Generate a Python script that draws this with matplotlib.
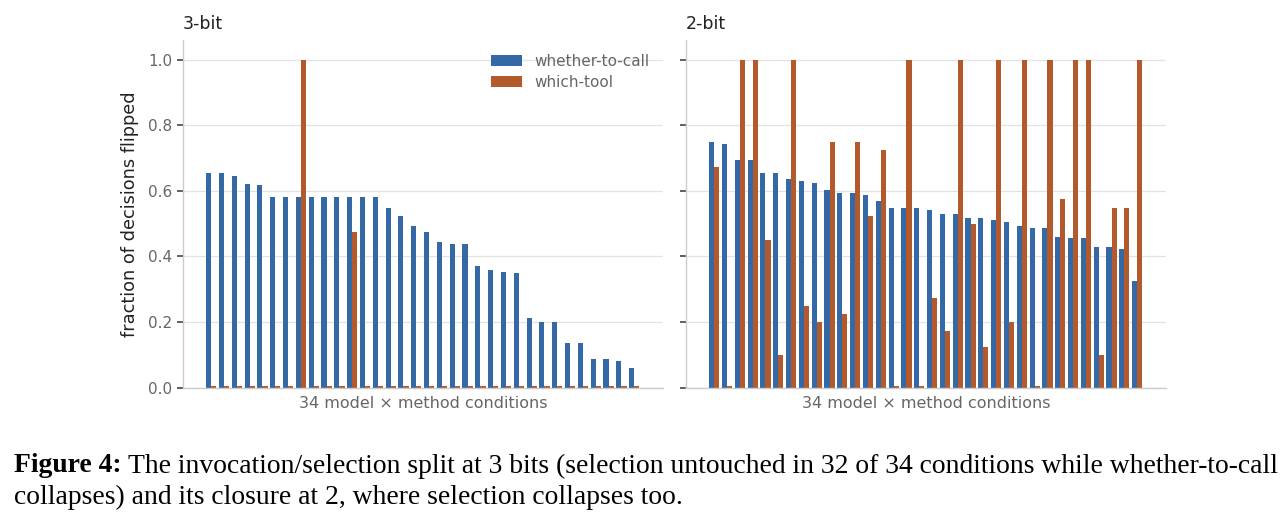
import matplotlib
matplotlib.use("Agg")
import matplotlib.pyplot as plt
import numpy as np

# fraction of decisions flipped, 34 model x method conditions per panel
call_3bit = [0.655, 0.655, 0.644, 0.622, 0.619, 0.582, 0.582, 0.582, 0.582, 0.582,
             0.582, 0.582, 0.582, 0.582, 0.548, 0.524, 0.493, 0.475, 0.445, 0.438,
             0.438, 0.371, 0.359, 0.353, 0.350, 0.213, 0.200, 0.200, 0.136, 0.136,
             0.088, 0.088, 0.081, 0.060]
tool_3bit = [0, 0, 0, 0, 0, 0, 0, 1.0, 0, 0,
             0, 0.475, 0, 0, 0, 0, 0, 0, 0, 0,
             0, 0, 0, 0, 0, 0, 0, 0, 0, 0,
             0, 0, 0, 0]

call_2bit = [0.750, 0.744, 0.695, 0.695, 0.655, 0.655, 0.637, 0.631, 0.625, 0.603,
             0.594, 0.594, 0.588, 0.570, 0.548, 0.548, 0.548, 0.542, 0.530, 0.530,
             0.518, 0.518, 0.512, 0.506, 0.493, 0.487, 0.487, 0.460, 0.457, 0.457,
             0.429, 0.429, 0.423, 0.326]
tool_2bit = [0.673, 0.0, 1.0, 1.0, 0.451, 0.100, 1.0, 0.250, 0.200, 0.750,
             0.225, 0.750, 0.524, 0.725, 0.0, 1.0, 0.0, 0.274, 0.173, 1.0,
             0.500, 0.124, 1.0, 0.200, 1.0, 0.0, 1.0, 0.576, 1.0, 1.0,
             0.100, 0.548, 0.548, 1.0]

panels = [("3-bit", call_3bit, tool_3bit), ("2-bit", call_2bit, tool_2bit)]
labels = ["whether-to-call", "which-tool"]

BLUE = "#3569a5"
ORANGE = "#b35a2d"
GREY = "#666666"
MIN_VIS = 0.005  # zero bars still drawn as a thin sliver

fig = plt.figure(figsize=(12.88, 5.22), dpi=100)
ax1 = fig.add_axes([0.1421, 0.2573, 0.3727, 0.6661])
ax2 = fig.add_axes([0.5326, 0.2573, 0.3727, 0.6661], sharey=ax1)

w = 0.4
for ax, (title, call, tool) in zip([ax1, ax2], panels):
    x = np.arange(len(call))
    ax.bar(x - w / 2, np.maximum(call, MIN_VIS), width=w, color=BLUE, linewidth=0,
           label=labels[0], zorder=2)
    ax.bar(x + w / 2, np.maximum(tool, MIN_VIS), width=w, color=ORANGE, linewidth=0,
           label=labels[1], zorder=2)
    ax.set_xlim(-2.2, len(call) - 1 + 2.25)
    ax.set_ylim(0, 1.06)
    ax.set_yticks([0.0, 0.2, 0.4, 0.6, 0.8, 1.0])
    ax.set_xticks([])
    ax.grid(axis="y", color="#e3e3e3", linewidth=0.9, zorder=0)
    ax.set_axisbelow(True)
    for s in ["top", "right"]:
        ax.spines[s].set_visible(False)
    for s in ["left", "bottom"]:
        ax.spines[s].set_color("#cccccc")
        ax.spines[s].set_linewidth(1.0)
    ax.tick_params(axis="y", colors="#444444", labelcolor=GREY, labelsize=11,
                   length=4, width=1.2)
    ax.set_xlabel("34 model \u00d7 method conditions", fontsize=11.5, color=GREY, labelpad=6)
    ax.set_title(title, loc="left", fontsize=12.5, color="#222222", pad=8)

ax2.tick_params(axis="y", labelleft=False)
ax1.set_ylabel("fraction of decisions flipped", fontsize=12.8, color="#222222", labelpad=7)
ax1.legend(loc="upper right", frameon=False, fontsize=11, labelspacing=0.4,
           labelcolor=GREY)

# caption below the figure
serif = ["Liberation Serif", "DejaVu Serif"]
cap_size = 19.9
line1 = ("The invocation/selection split at 3 bits (selection untouched in 32 of 34 "
         "conditions while whether-to-call")
line2 = "collapses) and its closure at 2, where selection collapses too."
t_bold = fig.text(14 / 1288, 1 - 466 / 522, "Figure 4:", fontsize=cap_size,
                  fontweight="bold", family=serif, va="center", ha="left")
fig.canvas.draw()
bb = t_bold.get_window_extent(fig.canvas.get_renderer())
fig.text((bb.x1 + 6) / 1288, 1 - 466 / 522, line1, fontsize=cap_size, family=serif,
         va="center", ha="left")
fig.text(14 / 1288, 1 - 497 / 522, line2, fontsize=cap_size, family=serif,
         va="center", ha="left")

fig.savefig("out.png", dpi=100)
